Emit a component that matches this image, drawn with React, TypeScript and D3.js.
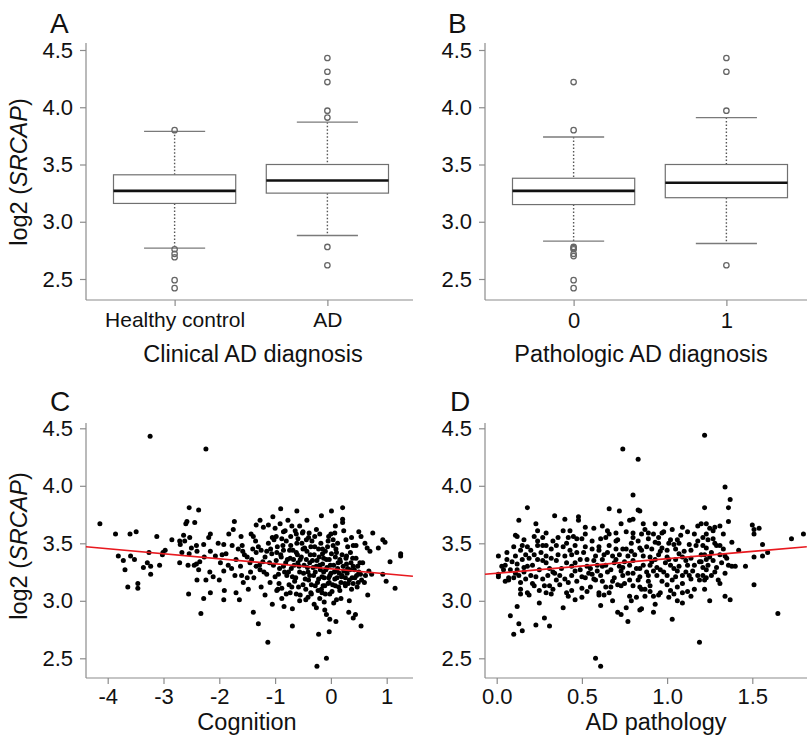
import React, { useEffect, useRef } from 'react';
import * as d3 from 'd3';

const WIDTH = 807;
const HEIGHT = 736;
const FONT = '"Liberation Sans", Arial, Helvetica, sans-serif';
const AXIS = '#8c8c8c';

// ---- panel A: clinical diagnosis boxplot ----
const clinicalGroups = ['Healthy control', 'AD'];
const clinicalStats = [
  { lo: 2.77, q1: 3.16, med: 3.27, q3: 3.41, hi: 3.79 },
  { lo: 2.88, q1: 3.25, med: 3.36, q3: 3.50, hi: 3.87 },
];
const clinicalOutliers = [
  [3.80, 2.76, 2.72, 2.69, 2.49, 2.42],
  [4.43, 4.31, 4.22, 3.97, 3.91, 2.78, 2.62],
];

// ---- panel B: pathologic diagnosis boxplot ----
const pathoGroups = ['0', '1'];
const pathoStats = [
  { lo: 2.83, q1: 3.15, med: 3.27, q3: 3.38, hi: 3.74 },
  { lo: 2.81, q1: 3.21, med: 3.34, q3: 3.50, hi: 3.91 },
];
const pathoOutliers = [
  [4.22, 3.80, 2.78, 2.77, 2.76, 2.72, 2.70, 2.49, 2.42],
  [4.43, 4.31, 3.97, 2.62],
];

const yTicks = [2.5, 3.0, 3.5, 4.0, 4.5];
const cognitionTicks = [-4, -3, -2, -1, 0, 1];
const pathologyTicks = [0, 0.5, 1.0, 1.5];

// fitted lines
const cognitionFit = { intercept: 3.278, slope: -0.0437, from: -4.39, to: 1.47 };
const pathologyFit = { intercept: 3.239, slope: 0.127, from: -0.069, to: 1.82 };

// ---- panel C: cognition vs log2(SRCAP) ----
const cognitionPoints: [number, number][] = [
  [-3.24, 4.43], [-2.24, 4.32], [-4.14, 3.67], [-3.86, 3.58], [-3.60, 3.58], [-3.49, 3.60], [-3.12, 3.56],
  [-3.81, 3.39], [-3.72, 3.35], [-3.59, 3.39], [-3.52, 3.36], [-3.69, 3.27], [-3.64, 3.12], [-3.46, 3.15],
  [-3.46, 3.11], [-3.36, 3.29], [-3.29, 3.33], [-3.26, 3.42], [-3.23, 3.30], [-3.23, 3.23], [-3.07, 3.31],
  [-3.02, 3.40], [-3.01, 3.42], [-2.97, 3.44], [-2.85, 3.53], [-2.71, 3.52], [-2.70, 3.49], [-2.64, 3.57],
  [-2.62, 3.52], [-2.67, 3.42], [-2.71, 3.33], [-2.60, 3.67], [-2.58, 3.69], [-2.54, 3.81], [-2.44, 3.68],
  [-2.37, 3.79], [-2.56, 3.31], [-2.54, 3.41], [-2.53, 3.55], [-2.50, 3.46], [-2.45, 3.31], [-2.41, 3.32],
  [-2.41, 3.48], [-2.40, 3.43], [-2.35, 3.34], [-2.37, 3.27], [-2.40, 3.18], [-2.27, 3.38], [-2.28, 3.49],
  [-2.19, 3.55], [-2.16, 3.58], [-2.17, 3.25], [-2.11, 3.21], [-2.24, 3.18], [-2.16, 3.43], [-2.07, 3.39],
  [-2.02, 3.50], [-2.16, 3.07], [-2.28, 3.02], [-2.33, 2.89], [-2.55, 3.06],
  [-0.90, 3.80], [-0.61, 3.78], [-1.73, 3.69], [-1.04, 3.73], [-0.77, 3.70], [-0.43, 3.70], [-1.27, 3.70],
  [-1.75, 3.62], [-1.83, 3.58], [-1.61, 3.56], [-1.34, 3.66], [-1.21, 3.64], [-1.12, 3.66], [-1.00, 3.63],
  [-0.91, 3.67], [-0.82, 3.61], [-0.70, 3.65], [-0.64, 3.61], [-0.56, 3.65], [-0.51, 3.59], [-0.39, 3.59],
  [-0.26, 3.62], [-1.92, 3.49], [-1.77, 3.48], [-1.59, 3.48], [-1.43, 3.58], [-1.39, 3.56], [-1.02, 3.53],
  [-0.88, 3.54], [-0.72, 3.56], [-0.59, 3.54], [-0.44, 3.53], [-0.29, 3.56], [-1.58, 3.43], [-1.40, 3.45],
  [-1.34, 3.42], [-1.25, 3.44], [-1.15, 3.43], [-1.06, 3.41], [-0.97, 3.42], [-0.85, 3.44], [-0.68, 3.44],
  [-0.60, 3.40], [-0.50, 3.45], [-0.36, 3.47], [-0.22, 3.45], [-1.92, 3.26], [-1.84, 3.31], [-1.72, 3.22],
  [-1.57, 3.16], [-1.50, 3.20], [-1.44, 3.25], [-1.42, 3.36], [-1.34, 3.30], [-1.27, 3.27], [-1.22, 3.34],
  [-1.15, 3.23], [-1.09, 3.16], [-1.03, 3.31], [-0.94, 3.23], [-0.89, 3.38], [-0.85, 3.30], [-0.79, 3.22],
  [-0.73, 3.37], [-0.71, 3.28], [-0.65, 3.17], [-0.59, 3.33], [-0.56, 3.25], [-0.50, 3.14], [-0.44, 3.36],
  [-0.38, 3.22], [-0.32, 3.29], [-0.28, 3.13], [-0.22, 3.19], [-1.91, 3.09], [-1.92, 3.01], [-1.70, 3.07],
  [-1.64, 3.01], [-1.18, 3.05], [-1.05, 2.97], [-0.97, 3.09], [-0.88, 3.11], [-0.84, 2.95], [-0.73, 3.07],
  [-0.69, 2.93], [-0.56, 3.00], [-0.45, 3.01], [-0.36, 3.07], [-0.26, 2.94], [-1.39, 2.90], [-1.30, 2.80],
  [-0.69, 2.78], [-1.13, 2.64], [-0.25, 2.43], [-0.22, 2.71],
  [0.21, 3.81], [0.01, 3.78], [-0.17, 3.74], [0.21, 3.71], [0.21, 3.68], [0.08, 3.65], [-0.04, 3.56],
  [0.07, 3.59], [0.23, 3.61], [0.04, 3.53], [0.27, 3.53], [0.50, 3.60], [0.54, 3.56], [0.75, 3.59],
  [0.93, 3.53], [0.97, 3.51], [0.04, 3.48], [0.40, 3.48], [0.45, 3.48], [0.61, 3.50], [0.65, 3.46],
  [0.70, 3.43], [0.85, 3.46], [1.25, 3.41], [1.25, 3.39], [1.06, 3.34], [-0.15, 3.41], [-0.08, 3.36],
  [0.10, 3.42], [0.16, 3.36], [0.28, 3.39], [0.35, 3.42], [0.45, 3.37], [0.52, 3.33], [0.40, 3.30],
  [-0.13, 3.25], [-0.02, 3.22], [0.10, 3.26], [0.20, 3.22], [0.29, 3.24], [0.38, 3.20], [0.46, 3.22],
  [0.53, 3.23], [0.68, 3.26], [0.73, 3.23], [0.93, 3.23], [0.99, 3.17], [0.60, 3.16], [-0.14, 3.13],
  [-0.03, 3.16], [0.08, 3.13], [0.16, 3.09], [0.26, 3.13], [0.40, 3.15], [0.49, 3.16], [1.15, 3.11],
  [0.66, 3.05], [-0.02, 3.06], [-0.16, 3.07], [0.10, 3.01], [0.33, 3.00], [-0.11, 2.92], [-0.08, 2.88],
  [-0.02, 2.84], [0.32, 2.90], [0.40, 2.85], [0.44, 2.88], [0.09, 2.82], [0.54, 2.78], [-0.03, 2.73],
  [-0.08, 2.50],
  // dense core
  [-1.18, 3.38], [-1.08, 3.45], [-0.98, 3.35], [-0.92, 3.28], [-0.86, 3.48], [-0.81, 3.33], [-0.76, 3.25],
  [-0.74, 3.44], [-0.67, 3.36], [-0.63, 3.20], [-0.61, 3.50], [-0.57, 3.30], [-0.53, 3.38], [-0.49, 3.24],
  [-0.47, 3.46], [-0.42, 3.29], [-0.40, 3.18], [-0.37, 3.40], [-0.33, 3.35], [-0.31, 3.22], [-0.29, 3.47],
  [-0.26, 3.30], [-0.24, 3.16], [-0.21, 3.38], [-0.19, 3.27], [-0.17, 3.10], [-0.15, 3.32], [-0.12, 3.20],
  [-0.10, 3.43], [-0.07, 3.29], [-0.05, 3.15], [-0.03, 3.36], [0.00, 3.24], [0.02, 3.08], [0.05, 3.31],
  [0.07, 3.19], [0.09, 3.45], [0.12, 3.28], [0.14, 3.12], [0.17, 3.34], [0.19, 3.21], [0.22, 3.30],
  [0.25, 3.15], [0.27, 3.37], [0.30, 3.28], [0.33, 3.18], [0.36, 3.33], [0.42, 3.27], [0.48, 3.30],
  [0.55, 3.18], [-1.45, 3.33], [-1.38, 3.20], [-1.30, 3.47], [-1.25, 3.12], [-1.62, 3.30], [-1.55, 3.40],
  [-1.70, 3.36], [-1.78, 3.28], [-1.88, 3.41], [-1.98, 3.33], [-0.95, 3.10], [-0.88, 3.02], [-0.70, 3.12],
  [-0.55, 3.05], [-0.45, 3.10], [-0.35, 3.06], [-0.20, 3.02], [-0.10, 3.06], [0.05, 2.98], [-0.30, 2.97],
  [-0.15, 3.45], [-0.05, 3.52], [0.12, 3.50], [-0.40, 3.55], [-0.62, 3.58], [-0.85, 3.60], [-1.05, 3.55],
  [-1.35, 3.52],
  [-1.28, 3.31], [-1.20, 3.25], [-1.12, 3.50], [-1.10, 3.33], [-1.00, 3.21], [-0.96, 3.47], [-0.93, 3.15],
  [-0.90, 3.40], [-0.83, 3.25], [-0.80, 3.52], [-0.78, 3.36], [-0.75, 3.14], [-0.72, 3.48], [-0.69, 3.21],
  [-0.66, 3.31], [-0.62, 3.42], [-0.58, 3.12], [-0.55, 3.36], [-0.52, 3.50], [-0.48, 3.31], [-0.46, 3.19],
  [-0.43, 3.43], [-0.41, 3.25], [-0.38, 3.33], [-0.35, 3.14], [-0.34, 3.52], [-0.30, 3.40], [-0.28, 3.25],
  [-0.25, 3.35], [-0.23, 3.09], [-0.20, 3.31], [-0.18, 3.50], [-0.16, 3.21], [-0.13, 3.37], [-0.11, 3.13],
  [-0.09, 3.27], [-0.06, 3.47], [-0.04, 3.20], [-0.01, 3.31], [0.01, 3.41], [0.03, 3.14], [0.06, 3.25],
  [0.08, 3.38], [0.11, 3.20], [0.13, 3.33], [0.15, 3.24], [0.18, 3.16], [0.20, 3.40], [0.23, 3.26],
  [0.26, 3.20], [0.28, 3.32], [0.31, 3.15], [0.34, 3.27], [0.37, 3.10], [0.39, 3.37], [0.43, 3.20],
  [0.47, 3.12], [0.50, 3.25], [0.57, 3.33], [0.62, 3.22], [-1.50, 3.38], [-1.48, 3.10], [-1.60, 3.22],
  [-1.66, 3.45], [-2.00, 3.18], [-1.95, 3.40], [-0.98, 3.56], [-0.80, 3.06], [-0.62, 3.06], [-0.41, 3.03],
  [-0.12, 2.99], [0.18, 3.02], [-0.50, 3.60], [-0.20, 3.58], [0.00, 3.58], [0.30, 3.47], [0.37, 3.55],
];

// ---- panel D: AD pathology vs log2(SRCAP) ----
const pathologyPoints: [number, number][] = [
  [0.18, 3.81], [0.13, 3.70], [0.23, 3.67], [0.34, 3.74], [0.40, 3.71], [0.48, 3.73], [0.48, 3.70],
  [0.52, 3.64], [0.24, 3.61], [0.29, 3.59], [0.39, 3.61], [0.43, 3.61], [0.12, 3.56], [0.16, 3.53],
  [0.27, 3.55], [0.36, 3.55], [0.42, 3.55], [0.47, 3.54], [0.50, 3.54], [0.10, 3.47], [0.15, 3.48],
  [0.18, 3.47], [0.24, 3.48], [0.27, 3.48], [0.29, 3.48], [0.32, 3.45], [0.39, 3.47], [0.46, 3.48],
  [0.52, 3.47], [0.01, 3.39], [0.06, 3.42], [0.11, 3.39], [0.15, 3.36], [0.19, 3.37], [0.22, 3.40],
  [0.24, 3.36], [0.29, 3.39], [0.32, 3.37], [0.36, 3.40], [0.40, 3.39], [0.44, 3.40], [0.49, 3.36],
  [0.53, 3.36], [0.01, 3.23], [0.01, 3.21], [0.05, 3.31], [0.08, 3.27], [0.07, 3.20], [0.07, 3.18],
  [0.12, 3.27], [0.13, 3.22], [0.14, 3.16], [0.16, 3.25], [0.17, 3.19], [0.14, 3.10], [0.14, 3.06],
  [0.21, 3.31], [0.20, 3.22], [0.18, 3.07], [0.22, 3.13], [0.25, 3.27], [0.27, 3.19], [0.28, 3.13],
  [0.30, 3.22], [0.31, 3.13], [0.29, 3.07], [0.33, 3.10], [0.34, 3.24], [0.37, 3.22], [0.40, 3.19],
  [0.42, 3.16], [0.44, 3.22], [0.44, 3.09], [0.46, 3.26], [0.47, 3.17], [0.50, 3.21], [0.50, 3.11],
  [0.46, 3.01], [0.50, 3.03], [0.53, 3.30], [0.25, 2.98], [0.39, 2.94], [0.12, 2.95], [0.08, 2.87],
  [0.13, 2.80], [0.15, 2.74], [0.10, 2.71], [0.23, 2.79], [0.28, 2.85], [0.31, 2.78], [0.11, 3.57],
  [0.74, 4.32], [0.83, 4.23], [0.80, 3.92], [0.66, 3.80], [0.72, 3.78], [0.83, 3.79], [0.84, 3.78],
  [0.78, 3.70], [0.80, 3.71], [0.73, 3.67], [0.86, 3.67], [0.93, 3.67], [0.99, 3.67], [0.57, 3.63],
  [0.62, 3.65], [0.65, 3.61], [0.70, 3.59], [0.80, 3.59], [0.85, 3.58], [0.89, 3.59], [0.92, 3.58],
  [0.97, 3.59], [1.03, 3.62], [1.09, 3.64], [1.12, 3.60], [1.18, 3.65], [0.64, 3.55], [0.71, 3.53],
  [0.80, 3.55], [0.89, 3.54], [0.95, 3.55], [1.02, 3.53], [1.06, 3.53], [1.13, 3.49], [0.56, 3.45],
  [0.60, 3.47], [0.66, 3.48], [0.74, 3.45], [0.79, 3.43], [0.84, 3.46], [0.91, 3.45], [0.97, 3.46],
  [1.00, 3.44], [1.05, 3.45], [1.10, 3.43], [0.58, 3.39], [0.63, 3.40], [0.68, 3.39], [0.72, 3.40],
  [0.77, 3.39], [0.86, 3.39], [0.93, 3.36], [1.00, 3.38], [1.14, 3.37], [1.19, 3.34], [0.59, 3.31],
  [0.64, 3.31], [0.69, 3.33], [0.74, 3.29], [0.78, 3.31], [0.84, 3.28], [0.90, 3.31], [0.96, 3.27],
  [1.02, 3.31], [1.06, 3.26], [1.12, 3.31], [0.56, 3.23], [0.61, 3.22], [0.65, 3.25], [0.69, 3.20],
  [0.74, 3.22], [0.80, 3.24], [0.84, 3.21], [0.89, 3.22], [0.94, 3.22], [1.00, 3.22], [1.05, 3.21],
  [1.09, 3.22], [1.14, 3.19], [1.19, 3.18], [0.57, 3.19], [0.62, 3.17], [0.67, 3.12], [0.73, 3.13],
  [0.75, 3.15], [0.80, 3.13], [0.84, 3.12], [0.90, 3.13], [0.90, 3.08], [0.96, 3.07], [1.02, 3.09],
  [1.04, 3.06], [1.09, 3.07], [1.14, 3.04], [0.60, 3.07], [0.60, 3.05], [0.78, 3.04], [0.79, 3.00],
  [0.87, 3.04], [1.01, 3.03], [1.06, 3.00], [1.09, 2.98], [0.68, 3.00], [0.61, 2.96], [0.76, 2.94],
  [0.84, 2.92], [0.85, 2.93], [0.93, 2.97], [0.71, 2.90], [0.73, 2.88], [0.77, 2.82], [0.92, 2.90],
  [1.03, 2.84], [1.19, 2.64], [0.58, 2.50], [0.61, 2.43],
  [1.22, 4.44], [1.34, 3.99], [1.37, 3.88], [1.36, 3.81], [1.22, 3.81], [1.36, 3.69], [1.20, 3.67],
  [1.23, 3.67], [1.25, 3.63], [1.28, 3.64], [1.31, 3.65], [1.27, 3.61], [1.23, 3.58], [1.33, 3.58],
  [1.50, 3.66], [1.51, 3.62], [1.51, 3.58], [1.54, 3.63], [1.21, 3.55], [1.24, 3.53], [1.27, 3.54],
  [1.38, 3.51], [1.73, 3.54], [1.80, 3.58], [1.56, 3.49], [1.21, 3.48], [1.23, 3.46], [1.29, 3.48],
  [1.31, 3.48], [1.33, 3.45], [1.42, 3.44], [1.22, 3.40], [1.31, 3.40], [1.34, 3.39], [1.35, 3.37],
  [1.59, 3.42], [1.56, 3.39], [1.51, 3.38], [1.46, 3.30], [1.20, 3.34], [1.23, 3.36], [1.27, 3.35],
  [1.24, 3.31], [1.29, 3.29], [1.36, 3.31], [1.38, 3.30], [1.40, 3.30], [1.34, 3.24], [1.21, 3.22],
  [1.22, 3.18], [1.23, 3.20], [1.26, 3.22], [1.22, 3.10], [1.31, 3.15], [1.51, 3.14], [1.34, 3.04],
  [1.37, 3.01], [1.25, 3.00], [1.65, 2.89],
  // dense core
  [0.18, 3.30], [0.26, 3.42], [0.33, 3.25], [0.41, 3.33], [0.47, 3.42], [0.55, 3.28], [0.58, 3.18],
  [0.62, 3.36], [0.67, 3.27], [0.70, 3.45], [0.75, 3.34], [0.77, 3.24], [0.81, 3.40], [0.83, 3.18],
  [0.86, 3.31], [0.88, 3.47], [0.92, 3.26], [0.95, 3.40], [0.97, 3.17], [0.99, 3.33], [1.01, 3.50],
  [1.04, 3.28], [1.07, 3.41], [1.09, 3.15], [1.11, 3.35], [1.15, 3.26], [1.17, 3.48], [1.23, 3.27],
  [1.26, 3.42], [1.30, 3.18], [0.21, 3.15], [0.29, 3.33], [0.37, 3.14], [0.44, 3.30], [0.52, 3.20],
  [0.60, 3.44], [0.64, 3.12], [0.72, 3.30], [0.79, 3.50], [0.85, 3.10], [0.90, 3.38], [0.93, 3.51],
  [1.00, 3.14], [1.05, 3.36], [1.13, 3.22], [1.20, 3.40], [0.09, 3.34], [0.11, 3.24], [0.14, 3.44],
  [0.24, 3.52], [0.35, 3.48], [0.45, 3.56], [0.56, 3.52], [0.66, 3.58], [0.76, 3.60], [0.87, 3.62],
  [0.98, 3.60], [1.08, 3.57], [1.18, 3.52], [0.32, 3.06], [0.42, 3.04], [0.53, 3.08], [0.63, 3.05],
  [0.82, 3.03], [0.95, 3.05], [1.12, 3.08], [0.04, 3.27], [0.06, 3.36], [0.19, 3.05],
  [0.16, 3.29], [0.20, 3.44], [0.23, 3.21], [0.27, 3.35], [0.31, 3.28], [0.35, 3.35], [0.38, 3.28],
  [0.43, 3.44], [0.46, 3.33], [0.49, 3.27], [0.51, 3.42], [0.54, 3.24], [0.57, 3.35], [0.59, 3.26],
  [0.62, 3.30], [0.65, 3.42], [0.68, 3.17], [0.70, 3.36], [0.73, 3.26], [0.76, 3.45], [0.78, 3.18],
  [0.80, 3.35], [0.82, 3.28], [0.85, 3.44], [0.88, 3.25], [0.89, 3.17], [0.91, 3.34], [0.94, 3.29],
  [0.96, 3.43], [0.98, 3.25], [1.01, 3.36], [1.03, 3.18], [1.04, 3.49], [1.07, 3.30], [1.09, 3.38],
  [1.11, 3.25], [1.14, 3.44], [1.16, 3.31], [1.18, 3.22], [1.21, 3.29], [1.25, 3.38], [1.28, 3.25],
  [1.32, 3.33], [0.10, 3.20], [0.12, 3.32], [0.17, 3.40], [0.25, 3.09], [0.35, 3.18], [0.41, 3.07],
  [0.55, 3.12], [0.66, 3.07], [0.71, 3.14], [0.87, 3.10], [0.92, 3.04], [1.06, 3.12], [1.16, 3.10],
  [0.22, 3.56], [0.33, 3.52], [0.41, 3.50], [0.52, 3.58], [0.61, 3.54], [0.70, 3.52], [0.83, 3.52],
  [0.95, 3.50], [1.07, 3.50], [1.16, 3.58], [1.28, 3.50], [0.03, 3.30], [0.05, 3.17],
];

type Sel = d3.Selection<SVGGElement, unknown, null, undefined>;
type Stat = { lo: number; q1: number; med: number; q3: number; hi: number };

function styleAxis(ax: Sel, size = 21) {
  ax.select('.domain').remove();
  ax.selectAll('line').attr('stroke', AXIS).attr('stroke-width', 1.2);
  ax.selectAll('text')
    .attr('font-family', FONT)
    .attr('font-size', size)
    .attr('fill', '#111');
}

function axisLine(g: Sel, x1: number, y1: number, x2: number, y2: number) {
  g.append('line')
    .attr('x1', x1).attr('y1', y1).attr('x2', x2).attr('y2', y2)
    .attr('stroke', AXIS)
    .attr('stroke-width', 1.2);
}

function drawYAxis(g: Sel, y: d3.ScaleLinear<number, number>, x0: number) {
  const ax = g.append('g')
    .attr('transform', `translate(${x0},0)`)
    .call(d3.axisLeft(y).tickValues(yTicks).tickFormat(d3.format('.1f')).tickSize(6).tickPadding(7));
  styleAxis(ax, 22);
}

function drawBoxes(g: Sel, x: d3.ScalePoint<string>, y: d3.ScaleLinear<number, number>,
  groups: string[], stats: Stat[], outliers: number[][]) {
  const bw = x.step() * 0.8;
  groups.forEach((name, i) => {
    const cx = x(name) as number;
    const s = stats[i];
    // whiskers
    [[s.hi, s.q3], [s.q1, s.lo]].forEach(([a, b]) => {
      g.append('line')
        .attr('x1', cx).attr('x2', cx).attr('y1', y(a)).attr('y2', y(b))
        .attr('stroke', '#555')
        .attr('stroke-width', 1.4)
        .attr('stroke-dasharray', '1.5,2');
    });
    [s.hi, s.lo].forEach((v) => {
      g.append('line')
        .attr('x1', cx - bw / 4).attr('x2', cx + bw / 4).attr('y1', y(v)).attr('y2', y(v))
        .attr('stroke', '#7a7a7a')
        .attr('stroke-width', 1.3);
    });
    g.append('rect')
      .attr('x', cx - bw / 2).attr('y', y(s.q3))
      .attr('width', bw).attr('height', y(s.q1) - y(s.q3))
      .attr('fill', '#fff')
      .attr('stroke', '#707070')
      .attr('stroke-width', 1.2);
    g.append('line')
      .attr('x1', cx - bw / 2).attr('x2', cx + bw / 2).attr('y1', y(s.med)).attr('y2', y(s.med))
      .attr('stroke', '#111')
      .attr('stroke-width', 2.6);
    g.selectAll(null).data(outliers[i]).enter()
      .append('circle')
      .attr('cx', cx)
      .attr('cy', (d) => y(d))
      .attr('r', 2.7)
      .attr('fill', 'none')
      .attr('stroke', '#666')
      .attr('stroke-width', 1.3);
  });
}

function label(g: Sel, txt: string, x: number, y: number, size: number, anchor = 'start') {
  g.append('text')
    .attr('x', x).attr('y', y)
    .attr('font-family', FONT)
    .attr('font-size', size)
    .attr('text-anchor', anchor)
    .attr('fill', '#111')
    .text(txt);
}

function yTitle(g: Sel, x: number, y: number) {
  const t = g.append('text')
    .attr('transform', `translate(${x},${y}) rotate(-90)`)
    .attr('text-anchor', 'middle')
    .attr('font-family', FONT)
    .attr('font-size', 23.5)
    .attr('fill', '#111');
  t.append('tspan').text('log2 (');
  t.append('tspan').attr('font-style', 'italic').text('SRCAP');
  t.append('tspan').text(')');
}

function drawScatter(g: Sel, x: d3.ScaleLinear<number, number>, y: d3.ScaleLinear<number, number>,
  pts: [number, number][], fit: { intercept: number; slope: number; from: number; to: number }) {
  g.selectAll(null).data(pts).enter()
    .append('circle')
    .attr('cx', (d) => x(d[0]))
    .attr('cy', (d) => y(d[1]))
    .attr('r', 2.5)
    .attr('fill', '#000');
  const line = d3.line<number>()
    .x((d) => x(d))
    .y((d) => y(fit.intercept + fit.slope * d));
  g.append('path')
    .attr('d', line([fit.from, fit.to]))
    .attr('fill', 'none')
    .attr('stroke', '#e8191f')
    .attr('stroke-width', 1.6);
}

export default function App() {
  const ref = useRef<SVGSVGElement>(null);

  useEffect(() => {
    const svg = d3.select(ref.current);
    svg.selectAll('*').remove();
    const root = svg.append('g') as unknown as Sel;

    const yTop = d3.scaleLinear().domain([2.5, 4.5]).range([279, 50]);
    const yBot = d3.scaleLinear().domain([2.5, 4.5]).range([658.3, 428.3]);

    // ---- A ----
    const xA = d3.scalePoint<string>().domain(clinicalGroups).range([86, 416]).padding(0.58);
    axisLine(root, 86, 43, 86, 300);
    axisLine(root, 86, 300, 413, 300);
    drawYAxis(root, yTop, 86);
    const axA = root.append('g').attr('transform', 'translate(0,300)')
      .call(d3.axisBottom(xA).tickSize(6).tickPadding(6)) as unknown as Sel;
    styleAxis(axA);
    drawBoxes(root, xA, yTop, clinicalGroups, clinicalStats, clinicalOutliers);
    label(root, 'A', 50, 33, 28);
    yTitle(root, 27, 172);
    label(root, 'Clinical AD diagnosis', 253, 362, 23.5, 'middle');

    // ---- B ----
    const xB = d3.scalePoint<string>().domain(pathoGroups).range([485, 815]).padding(0.58);
    axisLine(root, 485, 43, 485, 300);
    axisLine(root, 485, 300, 807, 300);
    drawYAxis(root, yTop, 485);
    const axB = root.append('g').attr('transform', 'translate(0,300)')
      .call(d3.axisBottom(xB).tickSize(6).tickPadding(6)) as unknown as Sel;
    styleAxis(axB, 22);
    drawBoxes(root, xB, yTop, pathoGroups, pathoStats, pathoOutliers);
    label(root, 'B', 448, 33, 28);
    label(root, 'Pathologic AD diagnosis', 641, 362, 23.5, 'middle');

    // ---- C ----
    const xC = d3.scaleLinear().domain([-4, 1]).range([107.7, 386.7]);
    axisLine(root, 86, 423, 86, 678);
    axisLine(root, 86, 678, 413, 678);
    drawYAxis(root, yBot, 86);
    const axC = root.append('g').attr('transform', 'translate(0,678)')
      .call(d3.axisBottom(xC).tickValues(cognitionTicks).tickFormat((d) => String(d)).tickSize(6).tickPadding(4)) as unknown as Sel;
    styleAxis(axC, 22);
    drawScatter(root, xC, yBot, cognitionPoints, cognitionFit);
    label(root, 'C', 50, 411, 28);
    yTitle(root, 27, 546);
    label(root, 'Cognition', 247, 730, 23.5, 'middle');

    // ---- D ----
    const xD = d3.scaleLinear().domain([0, 1.5]).range([496.7, 752.3]);
    axisLine(root, 485, 423, 485, 678);
    axisLine(root, 485, 678, 807, 678);
    drawYAxis(root, yBot, 485);
    const axD = root.append('g').attr('transform', 'translate(0,678)')
      .call(d3.axisBottom(xD).tickValues(pathologyTicks).tickFormat(d3.format('.1f')).tickSize(6).tickPadding(4)) as unknown as Sel;
    styleAxis(axD, 22);
    drawScatter(root, xD, yBot, pathologyPoints, pathologyFit);
    label(root, 'D', 450, 411, 28);
    label(root, 'AD pathology', 656, 730, 23.5, 'middle');
  }, []);

  return (
    <svg
      ref={ref}
      width={WIDTH}
      height={HEIGHT}
      style={{ position: 'absolute', left: 0, top: 0, background: '#fff' }}
    />
  );
}
